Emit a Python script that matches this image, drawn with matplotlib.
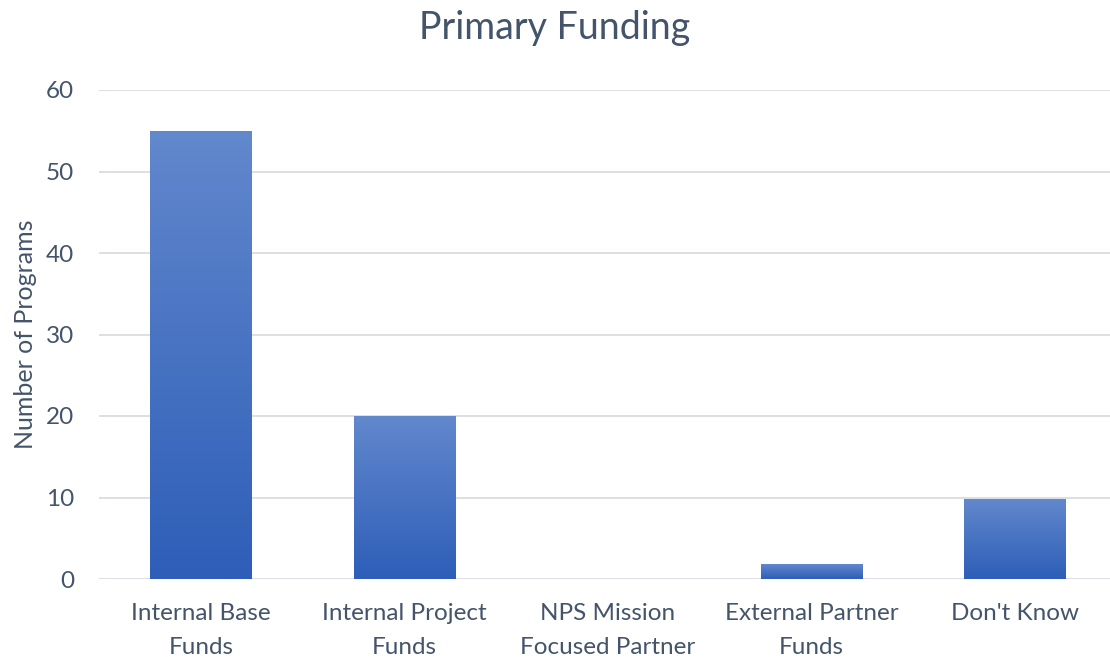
import matplotlib.pyplot as plt
import numpy as np
from matplotlib.colors import LinearSegmentedColormap

categories = ["Internal Base\nFunds", "Internal Project\nFunds", "NPS Mission\nFocused Partner",
              "External Partner\nFunds", "Don't Know"]
values = [55, 20, 0, 1.8, 9.8]
y_ticks = [0, 10, 20, 30, 40, 50, 60]

text_color = '#44546a'
plt.rcParams['font.family'] = ['Lato', 'DejaVu Sans']

fig = plt.figure(figsize=(11.1, 6.57), dpi=100)
ax = fig.add_axes([99 / 1110, 78 / 657, 1018 / 1110, 489 / 657])

x = np.arange(len(categories))
bars = ax.bar(x, values, width=0.5, color='#4a74c4', zorder=2)

# gradient fill per bar, lighter at top
cmap = LinearSegmentedColormap.from_list('g', ['#2e5eb8', '#6288cd'])
grad = np.linspace(0, 1, 256).reshape(-1, 1)
for b in bars:
    if b.get_height() <= 0:
        continue
    x0, w, h = b.get_x(), b.get_width(), b.get_height()
    im = ax.imshow(grad, cmap=cmap, origin='lower', aspect='auto',
                   extent=[x0, x0 + w, 0, h], zorder=3)
    im.set_clip_path(b)

ax.set_xlim(-0.5, len(categories) - 0.5)
ax.set_ylim(0, 60)
ax.set_yticks(y_ticks)
ax.set_xticks(x)
ax.set_xticklabels(categories, fontsize=17.5, color=text_color, linespacing=1.72)
ax.tick_params(axis='y', labelsize=17.5, colors=text_color, length=0, pad=18)
ax.tick_params(axis='x', length=0, pad=17.5)
ax.yaxis.grid(True, color='#d9dde3', linewidth=1.3, zorder=0)
ax.set_axisbelow(True)
for s in ax.spines.values():
    s.set_visible(False)

ax.set_ylabel('Number of Programs', fontsize=18, color=text_color, labelpad=6)
fig.text(0.5, 0.958, 'Primary Funding', ha='center', va='center', fontsize=27, color=text_color)

plt.savefig('out.png', dpi=100)
plt.close()
